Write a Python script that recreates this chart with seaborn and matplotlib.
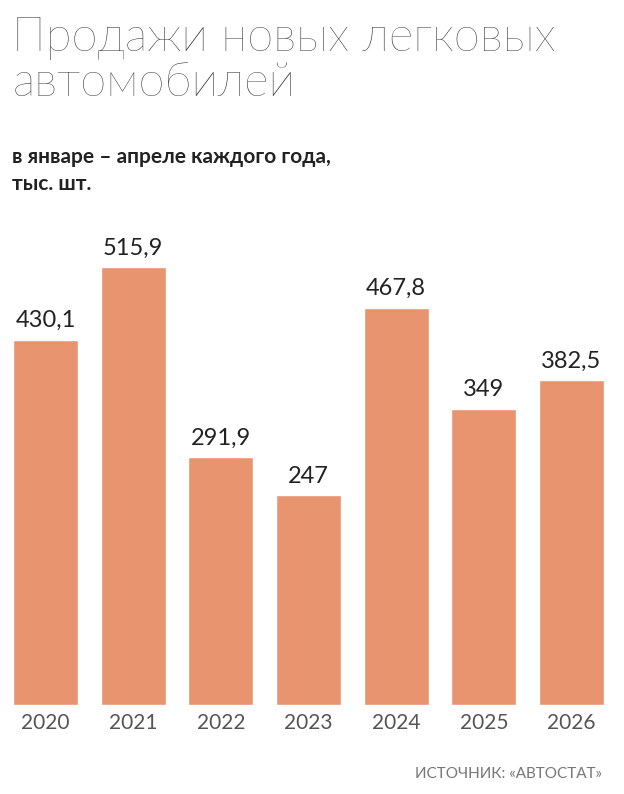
import matplotlib
matplotlib.use("Agg")
import matplotlib.pyplot as plt
import seaborn as sns
import pandas as pd

# data
years = ["2020", "2021", "2022", "2023", "2024", "2025", "2026"]
sales = [430.1, 515.9, 291.9, 247, 467.8, 349, 382.5]
value_labels = ["430,1", "515,9", "291,9", "247", "467,8", "349", "382,5"]

df = pd.DataFrame({"year": years, "sales": sales})

sns.set_theme(style="white")
plt.rcParams['font.family'] = ['Lato', 'DejaVu Sans']

fig = plt.figure(figsize=(6.24, 7.94), dpi=100)
ax = fig.add_axes([0, 0.112, 1, 0.598])

sns.barplot(data=df, x="year", y="sales", color="#E8956F", width=0.74,
            saturation=1, ax=ax)
ax.set_xlim(-0.52, 6.6)
ax.set_ylim(0, 559)

for i, (v, lab) in enumerate(zip(sales, value_labels)):
    ax.text(i, v + 10, lab, ha="center", va="bottom", fontsize=17, color="#222222")

ax.set_xlabel("")
ax.set_ylabel("")
ax.set_yticks([])
ax.tick_params(axis="x", length=0, labelsize=15, labelcolor="#555555", pad=6)
for s in ax.spines.values():
    s.set_visible(False)

fig.text(0.02, 0.978, "Продажи новых легковых\nавтомобилей", ha="left", va="top",
         fontsize=34, fontweight="light", color="#2a2a2a", linespacing=1.05)
fig.text(0.02, 0.815, "в январе – апреле каждого года,\nтыс. шт.", ha="left", va="top",
         fontsize=15, fontweight="bold", color="#222222", linespacing=1.45)
fig.text(0.965, 0.025, "ИСТОЧНИК: «АВТОСТАТ»", ha="right", va="center",
         fontsize=11, color="#777777")

fig.savefig("out.png", dpi=100)
